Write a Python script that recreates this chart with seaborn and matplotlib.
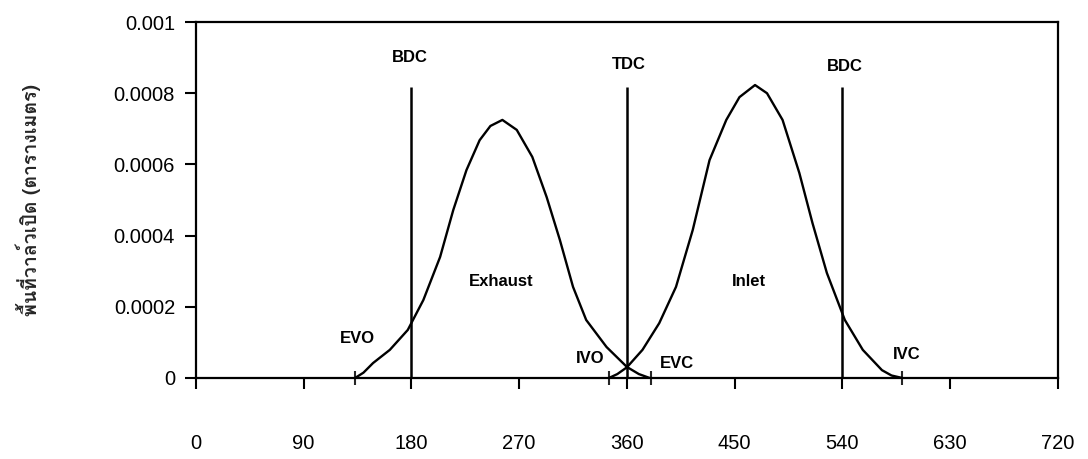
import numpy as np
import pandas as pd
import matplotlib
matplotlib.use('Agg')
import matplotlib.pyplot as plt
import seaborn as sns
from matplotlib import font_manager, ft2font

# exhaust valve open area vs crank angle
exh_deg = [133, 140, 148, 162, 177, 190, 204, 215, 226, 237, 246, 256, 268, 281, 293, 304,
           315, 326, 343, 360, 370, 379]
exh_area = [0, 0.000015, 0.000042, 0.000079, 0.000135, 0.000219, 0.00034, 0.000472, 0.000584,
            0.000668, 0.000708, 0.000725, 0.000697, 0.000621, 0.000508, 0.000388, 0.000256,
            0.000163, 0.000087, 0.000031, 0.000011, 0]

# inlet valve open area vs crank angle
inl_deg = [345, 352, 360, 373, 387, 401, 415, 429, 443, 454, 467, 477, 490, 504, 515, 527,
           542, 557, 573, 581, 590]
inl_area = [0, 0.000011, 0.00003, 0.000079, 0.000154, 0.000256, 0.000416, 0.000612, 0.000725,
            0.000789, 0.000823, 0.0008, 0.000725, 0.000576, 0.000435, 0.000295, 0.000163,
            0.000079, 0.000022, 0.000007, 0]

# dead centre markers
dc_deg = [180, 360, 540]
dc_names = ['BDC', 'TDC', 'BDC']
dc_top = 0.000817

# valve timing events on the axis
event_deg = [133, 345, 380, 590]
event_names = ['EVO', 'IVO', 'EVC', 'IVC']

x_ticks = [0, 90, 180, 270, 360, 450, 540, 630, 720]
y_ticks = [0, 0.0002, 0.0004, 0.0006, 0.0008, 0.001]
y_tick_labels = ['0', '0.0002', '0.0004', '0.0006', '0.0008', '0.001']
y_title = 'พื้นที่วาล์วเปิด (ตารางเมตร)'

df = pd.concat([
    pd.DataFrame({'deg': exh_deg, 'area': exh_area, 'valve': 'Exhaust'}),
    pd.DataFrame({'deg': inl_deg, 'area': inl_area, 'valve': 'Inlet'}),
])

sns.set_style('ticks')


def find_thai_font():
    for f in font_manager.fontManager.ttflist:
        try:
            if 0x0E1E in ft2font.FT2Font(f.fname).get_charmap():
                return f.name
        except Exception:
            pass
    return None


thai = find_thai_font()
plt.rcParams['font.family'] = ['Liberation Sans', 'DejaVu Sans']
plt.rcParams['text.color'] = 'black'

fig = plt.figure(figsize=(10.88, 4.59), dpi=100)
ax = fig.add_axes([0.180, 0.1765, 0.7924, 0.7755])

sns.lineplot(data=df, x='deg', y='area', units='valve', estimator=None,
             color='black', lw=1.7, sort=False, ax=ax)

ax.vlines(dc_deg, 0, dc_top, color='black', lw=1.8)

ax.set_xlim(0, 720)
ax.set_ylim(0, 0.001)
ax.set_xticks(x_ticks)
ax.set_yticks(y_ticks)
ax.set_yticklabels(y_tick_labels)
ax.set_xticks(event_deg, minor=True)
ax.tick_params(axis='both', which='major', direction='out', length=8, width=1.5,
               labelsize=14.5, colors='black')
ax.tick_params(axis='x', which='major', pad=32)
ax.tick_params(axis='y', which='major', pad=7)
ax.tick_params(axis='x', which='minor', direction='inout', length=10, width=1.5)
for s in ax.spines.values():
    s.set_linewidth(1.6)
    s.set_color('black')

ax.set_xlabel('')
if thai:
    ax.set_ylabel(y_title, family=[thai, 'DejaVu Sans'], fontsize=14, fontweight='bold', labelpad=52)
else:
    ax.set_ylabel(y_title, fontsize=14, fontweight='bold', labelpad=52)

kw = dict(fontsize=12, fontweight='bold', ha='center', va='center', color='black')
ax.text(179, 0.0009, dc_names[0], **kw)
ax.text(362, 0.00088, dc_names[1], **kw)
ax.text(542, 0.000874, dc_names[2], **kw)
ax.text(135, 0.000112, event_names[0], **kw)
ax.text(329, 0.000056, event_names[1], **kw)
ax.text(402, 0.000042, event_names[2], **kw)
ax.text(594, 0.000065, event_names[3], **kw)
ax.text(255, 0.00027, 'Exhaust', **kw)
ax.text(462, 0.00027, 'Inlet', **kw)

fig.savefig('out.png', dpi=100)
